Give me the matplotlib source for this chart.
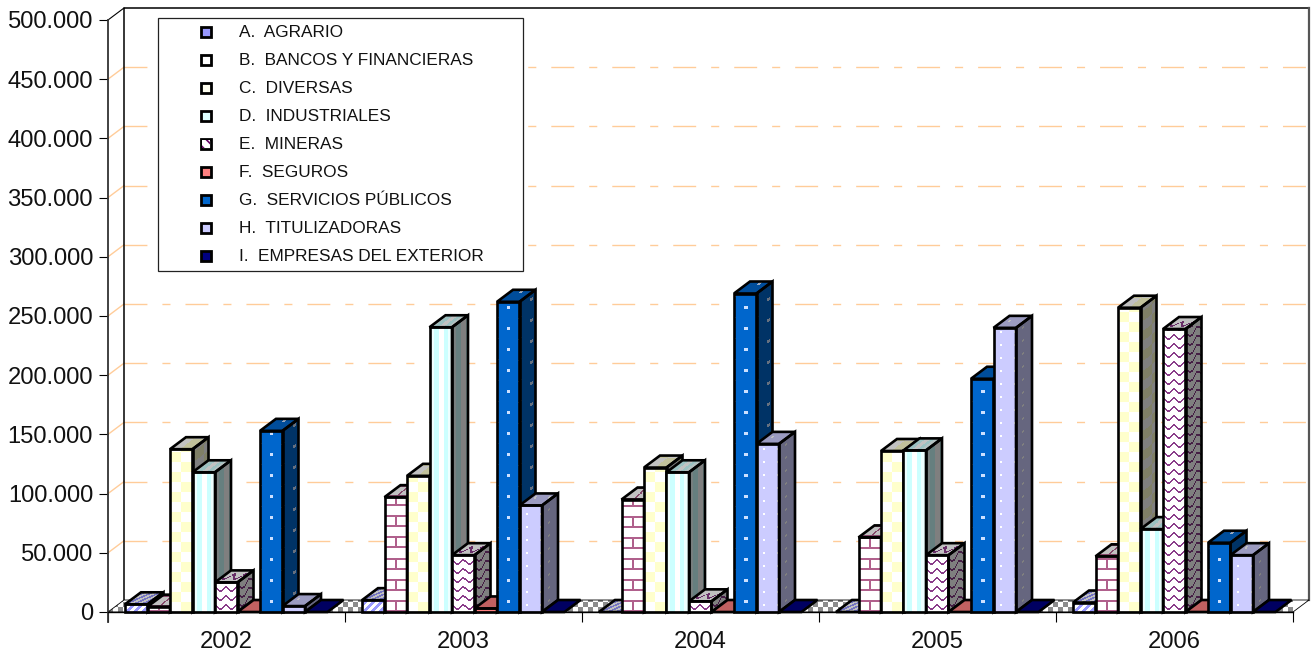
import numpy as np
import matplotlib
matplotlib.use("Agg")
import matplotlib.pyplot as plt
from matplotlib.patches import Polygon, Rectangle

plt.rcParams['font.family'] = ['Liberation Sans', 'DejaVu Sans']
plt.rcParams['hatch.linewidth'] = 1.2

# data
years = ['2002', '2003', '2004', '2005', '2006']
agrario = [6500, 10000, 0, 0, 8000]
bancos = [4500, 97000, 95000, 63000, 47000]
diversas = [137500, 115000, 122000, 136000, 257000]
industriales = [118000, 240500, 118000, 136500, 70000]
mineras = [25000, 48000, 9000, 48000, 239000]
seguros = [0, 3000, 0, 0, 0]
servicios = [153000, 262000, 269000, 197000, 58500]
titulizadoras = [5000, 90000, 142000, 240000, 48000]
exterior = [0, 0, 0, 0, 0]

series = [agrario, bancos, diversas, industriales, mineras,
          seguros, servicios, titulizadoras, exterior]
names = ['A.  AGRARIO', 'B.  BANCOS Y FINANCIERAS', 'C.  DIVERSAS',
         'D.  INDUSTRIALES', 'E.  MINERAS', 'F.  SEGUROS',
         'G.  SERVICIOS PÚBLICOS', 'H.  TITULIZADORAS', 'I.  EMPRESAS DEL EXTERIOR']
yticks = [0, 50000, 100000, 150000, 200000, 250000, 300000, 350000, 400000, 450000, 500000]
ylabels = ['0', '50.000', '100.000', '150.000', '200.000', '250.000',
           '300.000', '350.000', '400.000', '450.000', '500.000']
swatch_colors = ['#9999FF', '#FFFFFF', '#FFFFF0', '#DDFFFF', '#FFFFFF',
                 '#FF8080', '#0066CC', '#CCCCFF', '#000080']

W, H = 1313, 653
X0, X1, Y0, Y1 = 108, 1293, 612, 20   # front plane of the axes, pixels
PX = 5 / (X1 - X0)          # one pixel in x data units
PY = 500000 / (Y0 - Y1)     # one pixel in y data units
DX, DY = 16 * PX, 12 * PY   # 3d depth
BAR = 22.5 * PX
START = 17 * PX


def rgb(c):
    return np.array(matplotlib.colors.to_rgb(c))


def tile_for(i):
    white = rgb('white')
    if i == 0:  # diagonal stairs
        t = np.tile(white, (8, 8, 1))
        for k in range(8):
            for j in range(4):
                t[k, (k + j) % 8] = rgb('#9999FF')
        return t
    if i == 1:  # bricks
        t = np.tile(white, (21, 22, 1))
        c = rgb('#B0608C')
        t[:2] = c
        t[10:12] = c
        t[:10, 10:12] = c
        return t
    if i == 2:  # checks
        t = np.tile(white, (20, 22, 1))
        t[:10, 11:] = rgb('#FFFFCC')
        t[10:, :11] = rgb('#FFFFCC')
        return t
    if i == 3:  # vertical shading
        t = np.tile(white, (4, 22, 1))
        t[:, 0:4] = rgb('#EEFFFF')
        t[:, 4:9] = rgb('#CCFFFF')
        t[:, 9:14] = white
        t[:, 14:18] = rgb('#CCFFFF')
        t[:, 18:] = rgb('#EEFFFF')
        return t
    if i == 4:  # waves
        t = np.tile(white, (9, 11, 1))
        c = rgb('#8A3D8A')
        for j, k in enumerate([6, 5, 4, 3, 2, 2, 2, 3, 4, 5, 6]):
            t[k, j] = c
            t[(k + 1) % 9, j] = c
        return t
    if i == 5:
        return np.tile(rgb('#FF8080'), (4, 4, 1))
    if i == 6:  # blue with sparse dots
        t = np.tile(rgb('#0066CC'), (21, 22, 1))
        t[9:12, 10:13] = rgb('#CCE0FF')
        t[0:1, 0:2] = rgb('#88B4E6')
        t[20:, 21:] = rgb('#88B4E6')
        return t
    if i == 7:  # lilac with dots
        t = np.tile(rgb('#CCCCFF'), (13, 14, 1))
        t[6:8, 6:8] = white
        return t
    return np.tile(rgb('#000080'), (4, 4, 1))


def floor_tile():
    t = np.tile(rgb('white'), (10, 10, 1))
    t[:5, :5] = rgb('#8C8C8C')
    t[5:, 5:] = rgb('#8C8C8C')
    return t


def paint(ax, tile, x, y, w_px, h_px, poly, z, shade=1.0, shear=None):
    # fill a polygon with a pixel texture, bottom left of the image at x, y
    w_px, h_px = int(round(w_px)), max(int(round(h_px)), 1)
    rows = np.arange(h_px)[:, None]
    cols = np.arange(w_px)[None, :]
    if shear == 'side':
        rows = rows - np.round(cols * 0.75).astype(int)
    if shear == 'top':
        cols = cols - np.round(rows * 1.3).astype(int)
    img = tile[rows % tile.shape[0], cols % tile.shape[1]] * shade
    im = ax.imshow(img, extent=(x, x + w_px * PX, y, y + h_px * PY), origin='lower',
                   aspect='auto', interpolation='nearest', zorder=z)
    clip = Polygon(poly, closed=True, transform=ax.transData)
    im.set_clip_path(clip)


fig = plt.figure(figsize=(W / 100, H / 100), dpi=100)
ax = fig.add_axes([X0 / W, 1 - Y0 / H, (X1 - X0) / W, (Y0 - Y1) / H])
ax.patch.set_alpha(0)
ax.set_xlim(0, 5)
ax.set_ylim(0, 500000)

# back wall, gridlines
for v in yticks[1:-1]:
    ax.plot([0, DX], [v, v + DY], color='#FFCC99', lw=1.0, clip_on=False, zorder=1)
    ax.plot([DX, 5 + DX], [v + DY, v + DY], color='#FFCC99', lw=1.0, clip_on=False, zorder=1,
            linestyle=(0, (16.5, 10.8, 5.8, 10.8)))
ax.plot([DX, DX, 5 + DX], [DY, 500000 + DY, 500000 + DY], color='black', lw=1.1, clip_on=False, zorder=2)
ax.plot([0, DX], [500000, 500000 + DY], color='black', lw=0.8, clip_on=False, zorder=2)
ax.plot([5 + DX, 5 + DX], [DY, 500000 + DY], color='#555555', lw=1.6, clip_on=False, zorder=2)

# floor
floor = [(0, 0), (5, 0), (5 + DX, DY), (DX, DY)]
paint(ax, floor_tile(), 0, 0, (X1 - X0) + 16, 12, floor, 3)
ax.add_patch(Polygon(floor, closed=True, fill=False, ec='black', lw=0.6, clip_on=False, zorder=3))

# bars, painted left to right so each front hides the side before it
z = 4
for g in range(len(years)):
    for i, s in enumerate(series):
        x = g + START + i * BAR
        v = s[g]
        tile = tile_for(i)
        h_px = v / PY
        side = [(x + BAR, 0), (x + BAR + DX, DY), (x + BAR + DX, v + DY), (x + BAR, v)]
        top = [(x, v), (x + BAR, v), (x + BAR + DX, v + DY), (x + DX, v + DY)]
        front = [(x, 0), (x + BAR, 0), (x + BAR, v), (x, v)]
        if v > 0:
            paint(ax, tile, x + BAR, 0, 17, h_px + 13, side, z, shade=0.5, shear='side')
        paint(ax, tile, x, v, 40, 13, top, z, shade=0.76, shear='top')
        if v > 0:
            paint(ax, tile, x, 0, 24, h_px + 1, front, z)
        for poly in ([side, top, front] if v > 0 else [top]):
            ax.add_patch(Polygon(poly, closed=True, fill=False, ec='black', lw=1.9,
                                 joinstyle='miter', clip_on=False, zorder=z))
        z += 1

# axes
ax.set_yticks(yticks)
ax.set_yticklabels(ylabels, fontsize=17.1, color='#111111')
ax.set_xticks(range(6))
ax.set_xticklabels([])
ax.set_xticks(np.arange(5) + 0.5, labels=years, minor=True, fontsize=17.1, color='#111111')
ax.tick_params(axis='y', length=6.5, width=0.8, pad=4.3)
ax.tick_params(axis='x', which='major', length=7.2, width=0.8)
ax.tick_params(axis='x', which='minor', length=0, pad=14)
ax.spines['top'].set_visible(False)
ax.spines['right'].set_visible(False)
ax.spines['left'].set_linewidth(1.3)
ax.spines['left'].set_color('#333333')
ax.spines['left'].set_bounds(-10 * PY, 500000)
ax.spines['left'].set_zorder(200)
ax.spines['bottom'].set_linewidth(1.0)
ax.spines['bottom'].set_zorder(200)

# legend box in figure pixels
fig.add_artist(Rectangle((158 / W, 1 - 271 / H), 365 / W, 253 / H, transform=fig.transFigure,
                         fc='white', ec='#222222', lw=0.9, zorder=300))
for i, name in enumerate(names):
    yc = 32 + i * 28.05
    fig.add_artist(Rectangle((201 / W, 1 - (yc + 5) / H), 10 / W, 10 / H, transform=fig.transFigure,
                             fc=swatch_colors[i], ec='black', lw=2.0, zorder=301))
    if i == 4:
        fig.add_artist(Rectangle((202 / W, 1 - (yc + 4) / H), 8 / W, 8 / H, transform=fig.transFigure,
                                 fc='white', ec='#660066', lw=0, hatch='\\\\\\', zorder=302))
    fig.text(239 / W, 1 - (yc + 0.5) / H, name, fontsize=12.45, color='#111111', va='center', ha='left', zorder=302)

fig.savefig('out.png', dpi=100)
